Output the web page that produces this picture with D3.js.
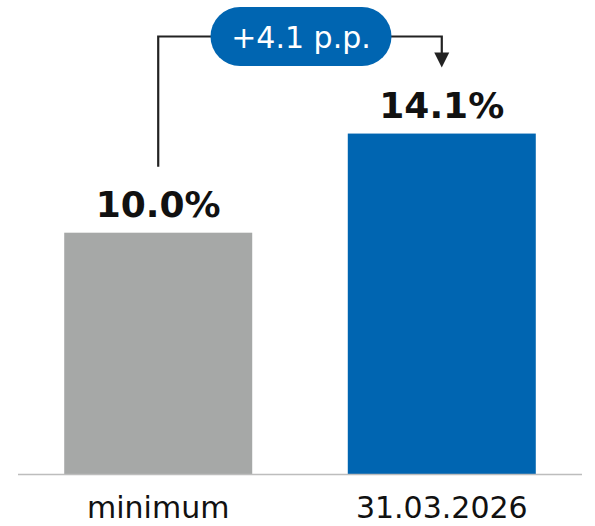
<!DOCTYPE html>
<html>
<head>
<meta charset="utf-8">
<script src="https://cdn.jsdelivr.net/npm/d3@7"></script>
<style>
  html, body { margin: 0; padding: 0; background: #fff; }
  svg { display: block; }
</style>
</head>
<body>
<svg id="chart" width="595" height="526"></svg>
<script>
// Categories and values (percent)
const categories = ["minimum", "31.03.2026"];
const values = [10.0, 14.1];
const valueLabels = ["10.0%", "14.1%"];
const barColors = ["#A6A8A7", "#0065B1"];
const changeLabel = "+4.1 p.p.";

const W = 595, H = 526;
const baseY = 474.5;
const svg = d3.select("#chart");

const x = d3.scaleBand()
  .domain(categories)
  .range([18, 582])
  .paddingInner(0.337)
  .paddingOuter(0.163);

const y = d3.scaleLinear()
  .domain([0, 15])
  .range([baseY, baseY - 15 * 24.18]);

const font = "'DejaVu Sans', sans-serif";

// Bars
svg.selectAll("rect.bar")
  .data(values)
  .join("rect")
  .attr("class", "bar")
  .attr("x", (d, i) => x(categories[i]))
  .attr("y", d => y(d))
  .attr("width", x.bandwidth())
  .attr("height", d => y(0) - y(d))
  .attr("fill", (d, i) => barColors[i]);

// Baseline
svg.append("line")
  .attr("x1", 18).attr("x2", 582)
  .attr("y1", baseY).attr("y2", baseY)
  .attr("stroke", "#BDBDBD")
  .attr("stroke-width", 1.5);

// Category labels
svg.selectAll("text.cat")
  .data(categories)
  .join("text")
  .attr("class", "cat")
  .attr("x", d => x(d) + x.bandwidth() / 2)
  .attr("y", 517.5)
  .attr("text-anchor", "middle")
  .attr("font-family", font)
  .attr("font-size", 30)
  .attr("fill", "#111")
  .text(d => d);

// Value labels
svg.selectAll("text.val")
  .data(values)
  .join("text")
  .attr("class", "val")
  .attr("x", (d, i) => x(categories[i]) + x.bandwidth() / 2)
  .attr("y", d => y(d) - 16)
  .attr("text-anchor", "middle")
  .attr("font-family", font)
  .attr("font-weight", "bold")
  .attr("font-size", 36)
  .attr("fill", "#111")
  .text((d, i) => valueLabels[i]);

// Change connector: from first bar label up, across, down to second bar label
const cx0 = x(categories[0]) + x.bandwidth() / 2;
const cx1 = x(categories[1]) + x.bandwidth() / 2;
const topY = 36.5;
const startY = y(values[0]) - 66;
const tipY = y(values[1]) - 66;
const arrowH = 15, arrowW = 15;

svg.append("path")
  .attr("d", `M${cx0},${startY} V${topY} H${cx1} V${tipY - arrowH + 1}`)
  .attr("fill", "none")
  .attr("stroke", "#222")
  .attr("stroke-width", 2.2);

svg.append("path")
  .attr("d", `M${cx1 - arrowW / 2},${tipY - arrowH} L${cx1 + arrowW / 2},${tipY - arrowH} L${cx1},${tipY} Z`)
  .attr("fill", "#222");

// Change pill
const pillW = 181, pillH = 59;
const pillCx = (cx0 + cx1) / 2 + 1;
svg.append("rect")
  .attr("x", pillCx - pillW / 2)
  .attr("y", topY - pillH / 2)
  .attr("width", pillW)
  .attr("height", pillH)
  .attr("rx", pillH / 2)
  .attr("fill", "#0065B1");

svg.append("text")
  .attr("x", pillCx)
  .attr("y", topY + 11.5)
  .attr("text-anchor", "middle")
  .attr("font-family", font)
  .attr("font-size", 30)
  .attr("fill", "#fff")
  .text(changeLabel);
</script>
</body>
</html>
